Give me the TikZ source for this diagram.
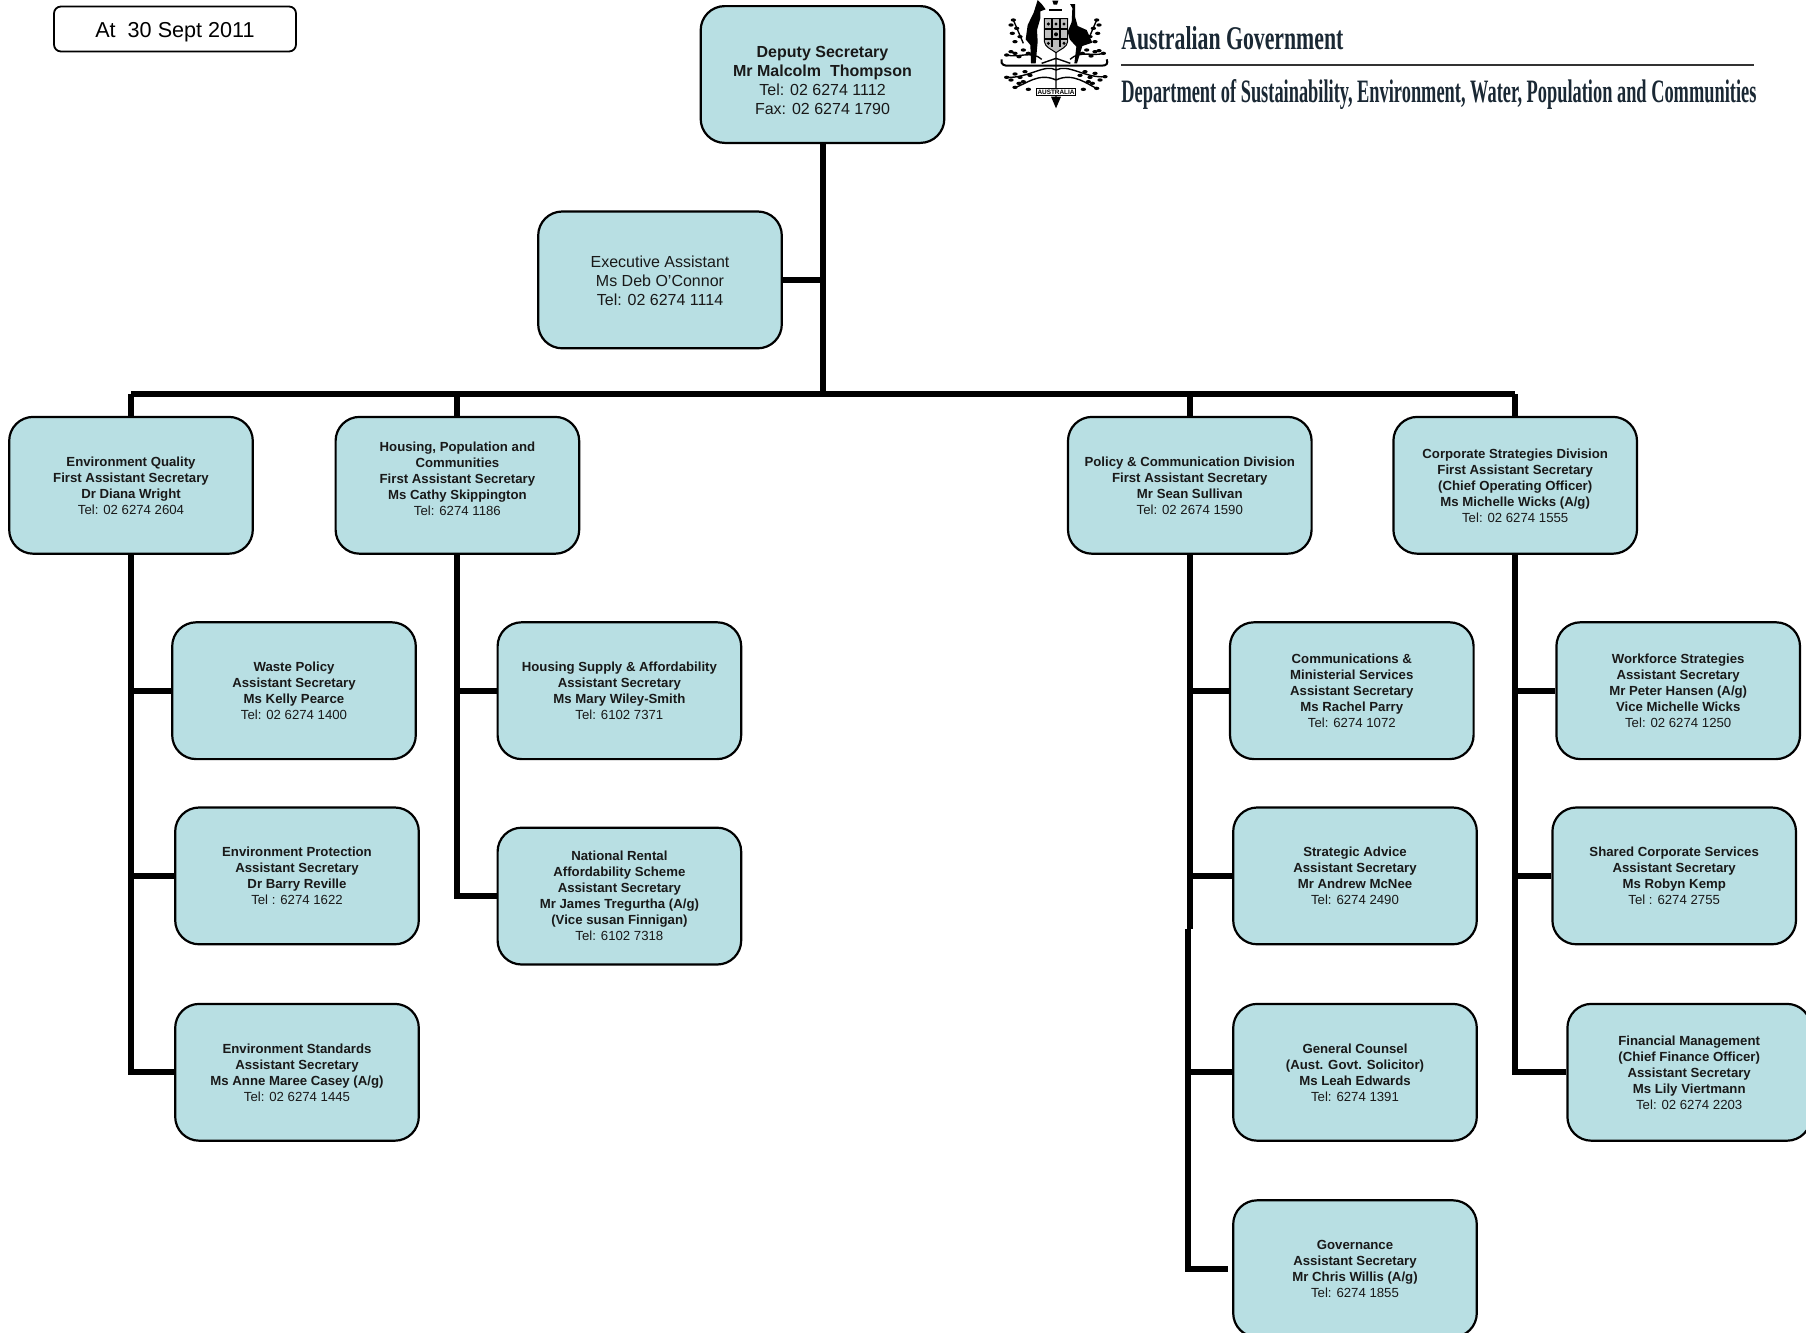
\documentclass[tikz,border=0pt]{standalone}
\usepackage{fontspec}
\usepackage{graphicx}
\setmainfont{Liberation Sans}
\newfontfamily\headfont{Liberation Serif}
\usetikzlibrary{positioning}
\definecolor{unitfill}{RGB}{184,223,227}
\definecolor{headink}{RGB}{26,40,52}

\begin{document}
\begin{tikzpicture}[x=.5pt,y=-.5pt,node distance=33.2pt,
	unit/.style={draw=black,line width=1.1pt,fill=unitfill,rounded corners=12pt,minimum width=121.8pt,minimum height=68.4pt,inner sep=0pt,align=center,font=\fontsize{6.6}{8}\selectfont,text=black!90},
	topunit/.style={unit,font=\fontsize{8}{9.5}\selectfont},
	link/.style={line width=3pt,draw=black}]
	\useasboundingbox (0,0) rectangle (1806,1333);

	\node[draw=black,line width=.9pt,rounded corners=3.5pt,minimum width=121pt,minimum height=22.5pt,font=\fontsize{10.8}{12}\selectfont] (DateBox) at (175,29) {\rule{0pt}{11.2pt}At\ \ 30 Sept 2011};

	\node[topunit] (Deputy) at (822.5,74.5) { \rule{0pt}{11.6pt}\textbf{Deputy Secretary}\\ \textbf{Mr Malcolm\ \ Thompson}\\ Tel: 02 6274 1112\\ Fax: 02 6274 1790 };
	\node[topunit,below=of Deputy,xshift=-81.25pt] (Exec) { \rule{0pt}{7pt}Executive Assistant\\ Ms Deb O'Connor\\ Tel: 02 6274 1114 };
	\coordinate[below=22.5pt of Exec.south] (Bus);

	\node[unit,below=of Exec,xshift=-264.5pt] (EnvQuality) { \textbf{Environment Quality}\\ \textbf{First Assistant Secretary}\\ \textbf{Dr Diana Wright}\\ Tel: 02 6274 2604 };
	\node[unit,right=40.3pt of EnvQuality] (Housing) { \textbf{Housing, Population and}\\ \textbf{Communities}\\ \textbf{First Assistant Secretary}\\ \textbf{Ms Cathy Skippington}\\ Tel: 6274 1186\\[-1.6pt] \mbox{} };
	\node[unit,right=243.3pt of Housing] (Policy) { \textbf{Policy \& Communication Division}\\ \textbf{First Assistant Secretary}\\ \textbf{Mr Sean Sullivan}\\ Tel: 02 2674 1590 };
	\node[unit,right=39.8pt of Policy] (Corporate) { \textbf{Corporate Strategies Division}\\ \textbf{First Assistant Secretary}\\ \textbf{(Chief Operating Officer)}\\ \textbf{Ms Michelle Wicks (A/g)}\\ Tel: 02 6274 1555 };

	\node[unit,below=of EnvQuality,xshift=81.5pt] (Waste) { \textbf{Waste Policy}\\ \textbf{Assistant Secretary}\\ \textbf{Ms Kelly Pearce}\\ Tel: 02 6274 1400 };
	\node[unit,below=23.1pt of Waste,xshift=1.5pt] (EnvProtection) { \textbf{Environment Protection}\\ \textbf{Assistant Secretary}\\ \textbf{Dr Barry Reville}\\ Tel : 6274 1622 };
	\node[unit,below=28.7pt of EnvProtection] (EnvStandards) { \textbf{Environment Standards}\\ \textbf{Assistant Secretary}\\ \textbf{Ms Anne Maree Casey (A/g)}\\ Tel: 02 6274 1445 };

	\node[unit,below=of Housing,xshift=81pt] (HousingSupply) { \textbf{Housing Supply \& Affordability}\\ \textbf{Assistant Secretary}\\ \textbf{Ms Mary Wiley-Smith}\\ Tel: 6102 7371 };
	\node[unit,below=of HousingSupply] (Rental) { \textbf{National Rental}\\ \textbf{Affordability Scheme}\\ \textbf{Assistant Secretary}\\ \textbf{Mr James Tregurtha (A/g)}\\ \textbf{(Vice susan Finnigan)}\\ Tel: 6102 7318 };

	\node[unit,below=of Policy,xshift=81pt] (Comms) { \textbf{Communications \&}\\ \textbf{Ministerial Services}\\ \textbf{Assistant Secretary}\\ \textbf{Ms Rachel Parry}\\ Tel: 6274 1072 };
	\node[unit,below=23.1pt of Comms,xshift=1.6pt] (Strategic) { \textbf{Strategic Advice}\\ \textbf{Assistant Secretary}\\ \textbf{Mr Andrew McNee}\\ Tel: 6274 2490 };
	\node[unit,below=28.7pt of Strategic] (Counsel) { \textbf{General Counsel}\\ \textbf{(Aust. Govt. Solicitor)}\\ \textbf{Ms Leah Edwards}\\ Tel: 6274 1391 };
	\node[unit,below=28.7pt of Counsel] (Governance) { \textbf{Governance}\\ \textbf{Assistant Secretary}\\ \textbf{Mr Chris Willis (A/g)}\\ Tel: 6274 1855 };

	\node[unit,below=of Corporate,xshift=81.5pt] (Workforce) { \textbf{Workforce Strategies}\\ \textbf{Assistant Secretary}\\ \textbf{Mr Peter Hansen (A/g)}\\ \textbf{Vice Michelle Wicks}\\ Tel: 02 6274 1250 };
	\node[unit,below=23.1pt of Workforce,xshift=-2pt] (Shared) { \textbf{Shared Corporate Services}\\ \textbf{Assistant Secretary}\\ \textbf{Ms Robyn Kemp}\\ Tel : 6274 2755 };
	\node[unit,below=28.7pt of Shared,xshift=7.5pt] (Finance) { \textbf{Financial Management}\\ \textbf{(Chief Finance Officer)}\\ \textbf{Assistant Secretary}\\ \textbf{Ms Lily Viertmann}\\ Tel: 02 6274 2203 };

	% connectors
	\coordinate[left=2pt of Governance.west] (GovernanceEnd);
	\coordinate[above=8pt of Strategic.south -| Policy] (PolicyBreak);
	\coordinate[left=1pt of PolicyBreak] (PolicyLower);

	\path[link]
		(Deputy) edge (Deputy |- Bus)
		(Exec) edge (Exec -| Deputy)
		(EnvQuality) edge (EnvQuality |- Bus)
		(Housing) edge (Housing |- Bus)
		(Policy) edge (Policy |- Bus)
		(Corporate) edge (Corporate |- Bus)
		(EnvQuality |- Waste) edge (Waste)
		(EnvQuality |- EnvProtection) edge (EnvProtection)
		(Housing |- HousingSupply) edge (HousingSupply)
		(Policy |- Comms) edge (Comms)
		(Policy |- Strategic) edge (Strategic)
		(Policy |- Counsel) edge (Counsel)
		(Policy) edge (PolicyBreak)
		(Corporate |- Workforce) edge (Workforce)
		(Corporate |- Shared) edge (Shared);
	\draw[link] (EnvQuality |- Bus) -- (Corporate |- Bus);
	\draw[link] (EnvQuality) |- (EnvStandards);
	\draw[link] (Housing) |- (Rental);
	\draw[link] (Corporate) |- (Finance);
	\draw[link] (PolicyLower) |- (GovernanceEnd);

	% letterhead
	\node[anchor=west,inner sep=0pt,text=headink] (GovtName) at (1121,38) {\resizebox{111pt}{11.5pt}{\headfont\bfseries Australian Government}};
	\node[anchor=west,inner sep=0pt,text=headink] (DeptName) at (1121,95) {\resizebox{317.5pt}{11.5pt}{\headfont\bfseries Department of Sustainability, Environment, Water, Population and Communities}};
	\coordinate (RuleStart) at (1121,65);
	\draw[line width=1pt,black!80] (RuleStart) -- ([xshift=-1.5pt]RuleStart -| DeptName.east);

	% crest
	\begin{scope}[shift={(995,0)},x=.1667pt,y=-.1667pt]
		% kangaroo, emu
		\fill (128,0) -- (140,12) -- (152,28) -- (136,34) -- (136,55) -- (126,90) -- (128,125) -- (122,190) -- (108,190) -- (106,135) -- (92,118) -- (98,75) -- (116,38) -- cycle;
		\fill (225,12) -- (240,12) -- (240,50) -- (248,78) -- (275,90) -- (292,128) -- (262,138) -- (246,190) -- (238,190) -- (244,140) -- (224,118) -- (218,95) -- (230,66) -- (232,24) -- cycle;
		% shield
		\draw[line width=.5pt,fill=black!25] (148,56) -- (218,56) -- (218,125) .. controls (216,142) and (196,148) .. (183,158) .. controls (170,148) and (150,142) .. (148,125) -- cycle;
		\draw[line width=.9pt] (170,56) -- (170,140) (196,56) -- (196,140) (148,88) -- (218,88) (148,118) -- (218,118);
		\fill (160,72) circle (5) (183,72) circle (5) (207,72) circle (5) (183,103) circle (6) (160,130) circle (5) (207,130) circle (5);
		\fill (172,2) -- (190,2) -- (186,14) -- (176,14) -- cycle;
		\fill (162,27) rectangle (200,33);
		% compartment bar and sprigs
		\draw[line width=1pt] (20,178) .. controls (16,196) and (30,197) .. (40,197) -- (320,197) .. controls (335,197) and (340,190) .. (335,178);
		\draw[line width=.7pt] (183,158) -- (183,300) (183,210) .. controls (150,190) and (100,235) .. (35,232) (183,210) .. controls (220,190) and (270,235) .. (330,230) (183,240) .. controls (130,215) and (90,255) .. (60,262) (183,240) .. controls (235,215) and (280,255) .. (305,265) (140,178) .. controls (110,150) and (70,175) .. (35,165) (225,178) .. controls (255,150) and (295,170) .. (325,160) (85,130) -- (55,60) (275,130) -- (305,60) (183,175) -- (140,190) (183,175) -- (226,190);
		\foreach \sprigx/\sprigy in {35/232,48/240,60/222,75/232,90/215,105/226,60/262,72/250,85/245,100/268,35/165,48/155,60/160,72/170,85/150,100/160,330/230,315/240,300/220,285/232,270/215,255/226,305/265,292/250,280/245,265/268,325/160,312/152,300/155,288/168,275/150,262/160,55/60,48/75,65/85,52/100,75/110,60/125,305/60,312/75,295/85,308/100,285/110,300/125}
			\fill (\sprigx,\sprigy) ellipse (8 and 5);
		\fill (168,290) -- (183,325) -- (198,290) -- cycle;
		\node[draw,line width=.5pt,fill=white,inner sep=.5pt,font=\fontsize{3.2}{4}\bfseries\selectfont] (CrestScroll) at (183,276) {AUSTRALIA};
	\end{scope}
\end{tikzpicture}
\end{document}
